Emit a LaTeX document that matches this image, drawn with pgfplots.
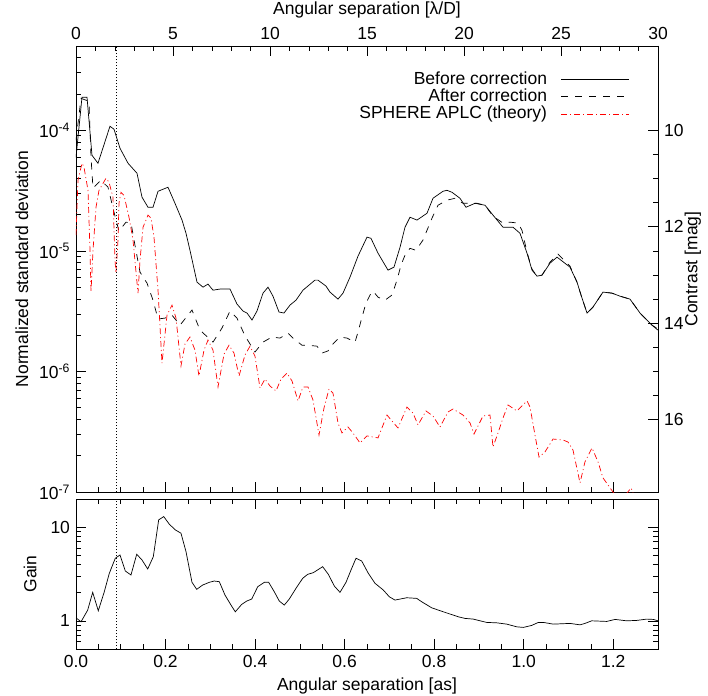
\documentclass[border=0pt]{standalone}
\usepackage{fontspec}
\setmainfont{Liberation Sans}
\usepackage{pgfplots}
\usepackage{pgfplotstable}
\pgfplotsset{compat=1.18}

\pgfplotstableread{
x y
0.0000 5.97e-5
0.0134 1.88e-4
0.0246 1.88e-4
0.0357 6.21e-5
0.0491 5.33e-5
0.0759 1.08e-4
0.0849 1.02e-4
0.0983 7.09e-5
0.1162 5.33e-5
0.1363 4.40e-5
0.1474 2.79e-5
0.1608 2.30e-5
0.1720 2.30e-5
0.1832 3.12e-5
0.2055 3.37e-5
0.2211 2.48e-5
0.2368 1.80e-5
0.2457 1.40e-5
0.2546 1.01e-5
0.2703 5.50e-6
0.2837 5.00e-6
0.2948 5.30e-6
0.3060 4.72e-6
0.3216 4.82e-6
0.3440 4.82e-6
0.3596 3.62e-6
0.3730 3.17e-6
0.3820 3.05e-6
0.3931 2.67e-6
0.4043 3.17e-6
0.4177 4.46e-6
0.4289 5.00e-6
0.4400 4.21e-6
0.4534 3.11e-6
0.4646 3.05e-6
0.4780 3.55e-6
0.4914 3.90e-6
0.5070 4.72e-6
0.5338 5.72e-6
0.5405 5.72e-6
0.5584 5.10e-6
0.5673 4.55e-6
0.5852 3.98e-6
0.5964 4.46e-6
0.6120 6.05e-6
0.6299 9.04e-6
0.6500 1.30e-5
0.6589 1.27e-5
0.6746 9.57e-6
0.6969 6.92e-6
0.7103 7.33e-6
0.7237 1.07e-5
0.7349 1.57e-5
0.7460 1.90e-5
0.7617 1.80e-5
0.7840 2.05e-5
0.7974 2.73e-5
0.8197 3.12e-5
0.8287 3.18e-5
0.8398 3.06e-5
0.8577 2.73e-5
0.8711 2.30e-5
0.8912 2.48e-5
0.9136 2.39e-5
0.9314 1.98e-5
0.9538 1.57e-5
0.9761 1.57e-5
0.9917 1.40e-5
1.0074 9.57e-6
1.0186 6.92e-6
1.0297 6.17e-6
1.0409 6.29e-6
1.0588 7.91e-6
1.0744 8.87e-6
1.1034 7.33e-6
1.1191 5.50e-6
1.1302 4.06e-6
1.1414 3.05e-6
1.1548 3.42e-6
1.1771 4.55e-6
1.1972 4.46e-6
1.2151 4.21e-6
1.2374 3.98e-6
1.2598 3.05e-6
1.2866 2.42e-6
1.3000 2.20e-6
}\before

\pgfplotstableread{
x y
0.0000 8.26e-5
0.0112 1.84e-4
0.0290 1.74e-4
0.0335 5.97e-5
0.0380 3.31e-5
0.0558 3.85e-5
0.0715 3.37e-5
0.0849 2.09e-5
0.0960 1.46e-5
0.1117 1.73e-5
0.1229 1.70e-5
0.1318 1.11e-5
0.1430 6.66e-6
0.1586 5.40e-6
0.1720 3.90e-6
0.1832 2.72e-6
0.1988 2.77e-6
0.2144 2.93e-6
0.2323 2.42e-6
0.2502 2.93e-6
0.2591 3.23e-6
0.2770 2.20e-6
0.3060 1.75e-6
0.3261 2.29e-6
0.3440 3.17e-6
0.3596 2.77e-6
0.3775 1.97e-6
0.3998 1.45e-6
0.4177 1.75e-6
0.4378 1.93e-6
0.4557 1.89e-6
0.4735 2.08e-6
0.4847 1.89e-6
0.5048 1.65e-6
0.5182 1.65e-6
0.5383 1.62e-6
0.5495 1.42e-6
0.5629 1.48e-6
0.5740 1.69e-6
0.5897 1.93e-6
0.6053 1.89e-6
0.6232 1.75e-6
0.6299 2.12e-6
0.6388 2.82e-6
0.6478 3.69e-6
0.6567 4.30e-6
0.6634 4.64e-6
0.6746 4.13e-6
0.6902 3.90e-6
0.7058 4.30e-6
0.7170 5.72e-6
0.7259 7.61e-6
0.7349 9.21e-6
0.7460 1.05e-5
0.7594 1.01e-5
0.7751 1.23e-5
0.7952 1.87e-5
0.8086 2.39e-5
0.8287 2.63e-5
0.8465 2.73e-5
0.8644 2.48e-5
0.8801 2.48e-5
0.8957 2.48e-5
0.9136 2.39e-5
0.9314 1.94e-5
0.9538 1.70e-5
0.9694 1.73e-5
0.9873 1.70e-5
0.9962 1.48e-5
1.0074 9.75e-6
1.0186 7.05e-6
1.0297 6.17e-6
1.0409 6.29e-6
1.0588 8.06e-6
1.0766 9.39e-6
1.1034 7.47e-6
1.1191 5.50e-6
1.1302 4.06e-6
1.1414 3.05e-6
1.1548 3.42e-6
1.1771 4.55e-6
1.1972 4.46e-6
1.2151 4.21e-6
1.2374 3.98e-6
1.2598 3.05e-6
1.2866 2.42e-6
1.3000 2.25e-6
}\after

\pgfplotstableread{
x y
0.0000 1.35e-5
0.0045 3.85e-5
0.0134 5.33e-5
0.0179 4.94e-5
0.0268 3.18e-5
0.0313 1.01e-5
0.0335 4.55e-6
0.0380 1.01e-5
0.0447 2.30e-5
0.0514 3.18e-5
0.0670 4.00e-5
0.0737 3.71e-5
0.0826 2.79e-5
0.0871 8.37e-6
0.0893 6.53e-6
0.0938 1.23e-5
0.0960 2.48e-5
0.1005 3.06e-5
0.1072 2.89e-5
0.1184 1.90e-5
0.1273 1.23e-5
0.1385 4.46e-6
0.1430 8.37e-6
0.1497 1.57e-5
0.1608 1.98e-5
0.1675 1.87e-5
0.1742 1.30e-5
0.1832 4.72e-6
0.1921 1.17e-6
0.2033 2.93e-6
0.2144 3.55e-6
0.2234 2.77e-6
0.2345 1.11e-6
0.2435 1.69e-6
0.2546 1.93e-6
0.2658 1.50e-6
0.2747 9.16e-7
0.2859 1.50e-6
0.2948 1.82e-6
0.3060 1.50e-6
0.3172 7.43e-7
0.3306 1.39e-6
0.3417 1.65e-6
0.3529 1.42e-6
0.3641 9.16e-7
0.3775 1.37e-6
0.3887 1.62e-6
0.3998 1.34e-6
0.4110 7.28e-7
0.4222 8.65e-7
0.4333 7.57e-7
0.4467 6.88e-7
0.4579 8.65e-7
0.4713 9.70e-7
0.4825 8.33e-7
0.4959 5.69e-7
0.5070 7.43e-7
0.5182 7.43e-7
0.5294 5.79e-7
0.5428 2.97e-7
0.5539 4.97e-7
0.5651 7.15e-7
0.5740 6.62e-7
0.5852 3.74e-7
0.5941 3.09e-7
0.6075 3.46e-7
0.6187 3.09e-7
0.6344 2.55e-7
0.6500 2.92e-7
0.6746 2.81e-7
0.6947 4.35e-7
0.7058 3.88e-7
0.7192 3.40e-7
0.7393 5.07e-7
0.7527 4.52e-7
0.7639 3.60e-7
0.7818 4.70e-7
0.7974 4.27e-7
0.8130 3.46e-7
0.8309 4.61e-7
0.8421 4.88e-7
0.8644 4.35e-7
0.8801 3.74e-7
0.8890 3.03e-7
0.9091 4.27e-7
0.9247 4.35e-7
0.9314 2.36e-7
0.9426 3.09e-7
0.9538 4.11e-7
0.9649 5.27e-7
0.9850 4.70e-7
1.0074 5.69e-7
1.0141 5.07e-7
1.0252 2.97e-7
1.0342 1.95e-7
1.0476 2.15e-7
1.0655 2.75e-7
1.0878 2.70e-7
1.0989 2.60e-7
1.1101 2.23e-7
1.1258 1.19e-7
1.1369 1.78e-7
1.1526 2.32e-7
1.1660 1.78e-7
1.1771 1.31e-7
1.1995 1.00e-7
1.2151 8.28e-8
1.2397 1.08e-7
1.2598 7.11e-8
}\theory

\pgfplotstableread{
x y
0.0000 1.077
0.0112 0.976
0.0261 1.302
0.0373 2.014
0.0498 1.280
0.0632 2.044
0.0744 3.217
0.0878 4.657
0.0983 5.051
0.1101 3.405
0.1228 3.085
0.1356 5.139
0.1474 4.466
0.1602 3.577
0.1727 4.844
0.1847 11.97
0.1959 12.99
0.2084 10.77
0.2218 9.357
0.2345 8.627
0.2457 5.480
0.2591 2.577
0.2696 2.169
0.2830 2.411
0.2977 2.577
0.3089 2.661
0.3201 2.616
0.3328 1.884
0.3462 1.473
0.3558 1.248
0.3701 1.498
0.3813 1.625
0.3925 1.708
0.4059 2.312
0.4206 2.577
0.4304 2.577
0.4429 2.044
0.4541 1.625
0.4653 1.473
0.4764 1.708
0.4914 2.223
0.5064 2.844
0.5175 3.139
0.5300 3.265
0.5510 3.786
0.5636 3.139
0.5770 2.352
0.5897 2.014
0.6031 2.577
0.6143 3.490
0.6254 4.657
0.6381 4.357
0.6529 3.217
0.6679 2.514
0.6864 2.132
0.6998 1.807
0.7125 1.666
0.7387 1.763
0.7610 1.737
0.7722 1.597
0.7945 1.378
0.8204 1.248
0.8539 1.104
0.8689 1.061
0.8874 1.043
0.9174 0.961
0.9397 0.952
0.9620 0.922
0.9844 0.863
0.9991 0.850
1.0179 0.893
1.0326 0.961
1.0438 0.961
1.0661 0.922
1.1034 0.938
1.1258 0.906
1.1369 0.938
1.1519 1.000
1.1854 0.985
1.2042 1.035
1.2301 1.000
1.2525 1.010
1.2748 1.043
1.2895 1.035
1.3000 1.000
}\gain

\begin{document}
\fontsize{17.5}{21}\selectfont
\begin{tikzpicture}
\useasboundingbox (-76pt,-203pt) rectangle (632pt,492pt);
\pgfplotsset{
  every axis/.append style={
    scale only axis, width=582pt,
    font=\fontsize{17.5}{21}\selectfont,
    tick align=inside,
    major tick length=10pt, minor tick length=5pt,
    every tick/.style={black, line width=0.6pt},
    axis line style={line width=0.8pt},
    /pgf/number format/assume math mode=true,
  },
}
% main top panel
\begin{axis}[
  at={(0pt,0pt)}, anchor=south west, height=446pt,
  xmin=0, xmax=1.3, ymode=log, ymin=1e-7, ymax=5e-4,
  xtick={0,0.2,0.4,0.6,0.8,1.0,1.2}, minor x tick num=3, xticklabels={}, xtick pos=left,
  ytick={1e-7,1e-6,1e-5,1e-4},
  yticklabels={10\textsuperscript{-7},10\textsuperscript{-6},10\textsuperscript{-5},10\textsuperscript{-4}},
  minor ytick={2e-7,3e-7,4e-7,5e-7,6e-7,7e-7,8e-7,9e-7,2e-6,3e-6,4e-6,5e-6,6e-6,7e-6,8e-6,9e-6,2e-5,3e-5,4e-5,5e-5,6e-5,7e-5,8e-5,9e-5,2e-4,3e-4,4e-4},
  ytick pos=left,
  ylabel={Normalized standard deviation},
  ylabel style={at={(axis description cs:-0.093,0.5)}, anchor=center},
  legend style={draw=none, fill=none, at={(0.957,0.952)}, anchor=north east,
    font=\fontsize{17.5}{18}\selectfont, row sep=-2pt, column sep=12pt},
  legend cell align=right,
  legend plot pos=right,
  legend image code/.code={\draw[#1] (0pt,0pt) -- (68pt,0pt);},
]
\addplot[black, line width=0.7pt] table[x=x,y=y] {\before};
\addlegendentry{Before correction}
\addplot[black, line width=0.7pt, dash pattern=on 7pt off 7pt] table[x=x,y=y] {\after};
\addlegendentry{After correction}
\addplot[red, line width=0.7pt, dash pattern=on 6pt off 3pt on 1pt off 3pt] table[x=x,y=y] {\theory};
\addlegendentry{SPHERE APLC (theory)}
\addplot[forget plot, black, line width=0.6pt, dash pattern=on 1pt off 2pt] coordinates {(0.089,1e-7) (0.089,5e-4)};
\end{axis}
% top lambda/D axis
\begin{axis}[
  at={(0pt,0pt)}, anchor=south west, height=446pt,
  xmin=0, xmax=30, ymin=0, ymax=1,
  axis x line*=top, hide y axis,
  xtick={0,5,10,15,20,25,30}, xticklabels={0,5,10,15,20,25,30}, minor x tick num=4,
  xlabel={Angular separation [λ/D]},
  xlabel style={at={(axis description cs:0.5,1.081)}, anchor=center},
]
\end{axis}
% right contrast axis
\begin{axis}[
  at={(0pt,0pt)}, anchor=south west, height=446pt,
  xmin=0, xmax=1, ymin=8.2526, ymax=17.5, y dir=reverse,
  axis y line*=right, hide x axis,
  ytick={10,12,14,16}, yticklabels={10,12,14,16}, minor y tick num=3,
  ylabel={Contrast [mag]},
  ylabel style={at={(axis description cs:1.060,0.5)}, anchor=center},
]
\end{axis}
% gain panel
\begin{axis}[
  at={(0pt,-7pt)}, anchor=north west, height=150pt,
  xmin=0, xmax=1.3, ymode=log, ymin=0.5, ymax=20,
  xtick={0,0.2,0.4,0.6,0.8,1.0,1.2}, xticklabels={0.0,0.2,0.4,0.6,0.8,1.0,1.2}, minor x tick num=3,
  ytick={1,10}, yticklabels={1,10},
  minor ytick={0.6,0.7,0.8,0.9,2,3,4,5,6,7,8,9},
  xlabel={Angular separation [as]},
  xlabel style={at={(axis description cs:0.5,-0.247)}, anchor=center},
  ylabel={Gain},
  ylabel style={at={(axis description cs:-0.079,0.5)}, anchor=center},
]
\addplot[black, line width=0.7pt] table[x=x,y=y] {\gain};
\addplot[black, line width=0.6pt, dash pattern=on 1pt off 2pt] coordinates {(0.089,0.5) (0.089,20)};
\end{axis}
\end{tikzpicture}
\end{document}
